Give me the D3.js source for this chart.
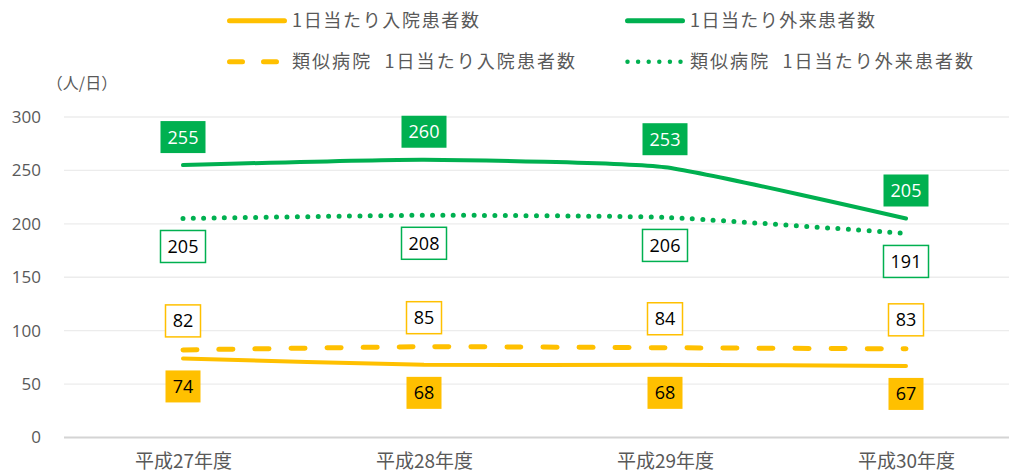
<!DOCTYPE html>
<html><head><meta charset="utf-8">
<script src="https://cdn.jsdelivr.net/npm/d3@7"></script>
<style>
html,body{margin:0;padding:0;background:#fff;}
svg{display:block;}
text{font-family:"Noto Sans CJK JP","Noto Sans",sans-serif;}
</style></head>
<body>
<svg id="chart" width="1009" height="472"></svg>
<script>
const categories = ["平成27年度","平成28年度","平成29年度","平成30年度"];
const inpatient = [74, 68, 68, 67];
const outpatient = [255, 260, 253, 205];
const simInpatient = [82, 85, 84, 83];
const simOutpatient = [205, 208, 206, 191];
const yTicks = [0, 50, 100, 150, 200, 250, 300];
const legendLabels = ["1日当たり入院患者数","1日当たり外来患者数","類似病院  1日当たり入院患者数","類似病院  1日当たり外来患者数"];
const unitLabel = "（人/日）";

const GREEN = "#00B050", YELLOW = "#FFC000", GRAY = "#595959";
const svg = d3.select("#chart");
const x = d3.scalePoint().domain(categories).range([183, 906]);
const y = d3.scaleLinear().domain([0, 300]).range([437.5, 117]);
const gridL = 64, gridR = 1009;

// gridlines
svg.append("g").selectAll("line").data(yTicks).join("line")
  .attr("x1", gridL).attr("x2", gridR)
  .attr("y1", d => y(d)).attr("y2", d => y(d))
  .attr("stroke", d => d === 0 ? "#d4d4d4" : "#ececec")
  .attr("stroke-width", d => d === 0 ? 2 : 1.3);

// y axis labels
const yAxis = d3.axisLeft(y).tickValues(yTicks).tickSize(0).tickPadding(0);
const ya = svg.append("g").attr("transform", "translate(41,0)").call(yAxis);
ya.select(".domain").remove();
ya.selectAll("text").attr("fill", GRAY).style("font-size", "17px")
  .style("font-family", "'Open Sans','Noto Sans',sans-serif");

svg.append("text").attr("x", 82).attr("y", 89).attr("text-anchor", "middle")
  .attr("fill", GRAY).style("font-size", "16px").text(unitLabel);

// x axis labels
const xAxis = d3.axisBottom(x).tickSize(0).tickPadding(0);
const xa = svg.append("g").attr("transform", "translate(0,454)").call(xAxis);
xa.select(".domain").remove();
xa.selectAll("text").attr("fill", GRAY).style("font-size", "19px")
  .style("font-family", "'Noto Sans CJK JP',sans-serif");

const curve = d3.curveCardinal.tension(0.5);
const line = d3.line().x((d, i) => x(categories[i])).y(d => y(d)).curve(curve);

const series = [
  {data: simInpatient, color: YELLOW, dash: "14 22", width: 5},
  {data: inpatient, color: YELLOW, dash: null, width: 4},
  {data: simOutpatient, color: GREEN, dash: "0 10.4", width: 5},
  {data: outpatient, color: GREEN, dash: null, width: 4}
];
series.forEach(s => {
  svg.append("path").datum(s.data).attr("d", line)
    .attr("fill", "none").attr("stroke", s.color)
    .attr("stroke-width", s.width).attr("stroke-linecap", "round")
    .attr("stroke-dasharray", s.dash);
});

// data labels
function labels(data, color, filled, offset, textColor) {
  const g = svg.append("g");
  data.forEach((v, i) => {
    const cx = x(categories[i]), cy = y(v) + offset;
    const w = String(v).length === 3 ? 45 : 35, h = 32;
    g.append("rect").attr("x", cx - w / 2).attr("y", cy - h / 2)
      .attr("width", w).attr("height", h)
      .attr("fill", filled ? color : "#fff")
      .attr("stroke", filled ? "none" : color).attr("stroke-width", 1.5);
    g.append("text").attr("x", cx).attr("y", cy + 6.5).attr("text-anchor", "middle")
      .attr("fill", textColor).style("font-size", "18px")
      .style("font-family", "'Open Sans','Noto Sans',sans-serif").text(v);
  });
}
labels(outpatient, GREEN, true, -28, "#fff");
labels(simOutpatient, GREEN, false, 28, "#000");
labels(simInpatient, YELLOW, false, -29, "#000");
labels(inpatient, YELLOW, true, 28, "#000");

// legend
const legend = [
  {label: legendLabels[0], color: YELLOW, dash: null, x: 227, y: 20.7, w: 5, tw: 187},
  {label: legendLabels[1], color: GREEN, dash: null, x: 625, y: 20.7, w: 5, tw: 185},
  {label: legendLabels[2], color: YELLOW, dash: "13 21", x: 227, y: 61.7, w: 5, tw: 283},
  {label: legendLabels[3], color: GREEN, dash: "0 10.6", x: 625, y: 61.7, w: 4.5, tw: 283}
];
legend.forEach(l => {
  svg.append("line").attr("x1", l.x + 2.5).attr("x2", l.x + 57.5)
    .attr("y1", l.y).attr("y2", l.y)
    .attr("stroke", l.color).attr("stroke-width", l.w)
    .attr("stroke-linecap", "round").attr("stroke-dasharray", l.dash);
  svg.append("text").attr("x", l.x + 65).attr("y", l.y + 6.5)
    .attr("fill", GRAY).style("font-size", "18px")
    .attr("textLength", l.tw).attr("lengthAdjust", "spacing")
    .style("white-space", "pre").text(l.label);
});
</script>
</body></html>
